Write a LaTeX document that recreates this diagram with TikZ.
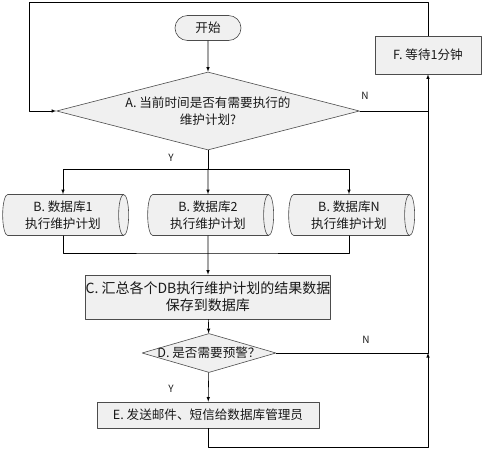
\documentclass[tikz,border=0pt]{standalone}
\usepackage{fontspec}
\setmainfont{Noto Sans CJK SC}
\usetikzlibrary{shapes.geometric,shapes.misc}

\tikzset{
  box/.style={draw=black!70, fill=black!6, inner sep=0pt, align=center},
  startbox/.style={box, rounded rectangle, minimum width=66, minimum height=25},
  stepbox/.style={box, rectangle, minimum width=#1, minimum height=26},
  decision/.style={box, diamond},
  dbbox/.style={box, cylinder, shape aspect=0.35, minimum height=126,
                minimum width=41},
  yn/.style={font=\fontsize{10}{12}\selectfont},
}

\begin{document}
\begin{tikzpicture}[x=1pt, y=-1pt, >=latex, line width=0.6pt,
                    line cap=round, line join=round,
                    font=\fontsize{12.6}{17}\selectfont, text=black!90]
  \useasboundingbox (0,0) rectangle (483,450);

  % Main column
  \node[startbox] (start) at (208,28) {开始};
  \node[decision, minimum width=303, minimum height=78,
        label={[align=center]center:A. 当前时间是否有需要执行的\\维护计划?}]
        (A) at (208,111) {};
  \node[stepbox=106, minimum height=38] (F) at (428,55) {F. 等待1分钟};

  % One branch per database
  \foreach \n/\x/\t in {1/63/1, 2/208/2, 3/349/N}
    \node[dbbox] (B\n) at (\x,215) {B. 数据库\t\\执行维护计划};

  \node[stepbox=232, minimum height=44, font=\fontsize{14}{17}\selectfont]
        (C) at (208,297) {C. 汇总各个DB执行维护计划的结果数据\\保存到数据库};
  \node[decision, minimum width=134, minimum height=39,
        label={center:D. 是否需要预警？}] (D) at (209,353) {};
  \node[stepbox=222] (E) at (208,415) {E. 发送邮件、短信给数据库管理员};

  % Bend points
  \coordinate (split) at (208,169);
  \coordinate (join)  at (208,253);
  \coordinate (loop)  at (29,2);
  \coordinate (low)   at (208,447);

  \draw[->] (start) -- (A);
  \draw (A.south) -- (split);
  \draw[->] (split) -| (B1.north);
  \draw[->] (split) -- (B2.north);
  \draw[->] (split) -| (B3.north);

  \draw (B1.south) |- (join) -| (B3.south);
  \draw[->] (B2.south) -- (C.north);
  \draw[->] (C) -- (D);
  \draw[->] (D) -- (E);

  % Back to the wait step
  \draw (A.east) -- (A.east -| F.south);
  \draw[->] (D.east) -| (F.south);
  \draw[->] (E.south) -- (low) -| (D.east -| F.south);
  \draw[->] (F.north) |- (loop) |- (A.west);

  % Labels
  \node[yn] at (171,158) {Y};
  \node[yn] at (365,96)  {N};
  \node[yn] at (171,389) {Y};
  \node[yn] at (366,340) {N};
\end{tikzpicture}
\end{document}
